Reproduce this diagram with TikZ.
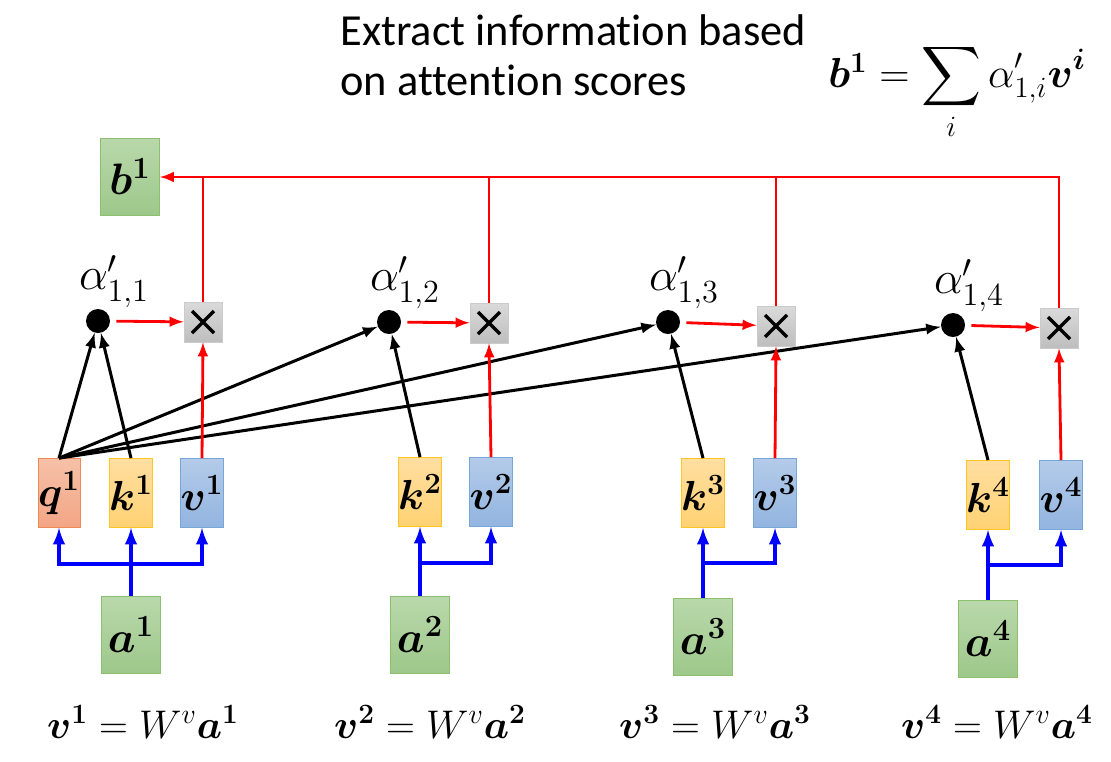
\documentclass[tikz,border=0pt]{standalone}
\usepackage{fix-cm}
\usepackage{amsmath}
\usepackage{bm}
\usepackage{fontspec}
\newfontfamily\carlito[Ligatures={NoCommon,NoContextual}]{Carlito}
\usepackage{tikz}
\usetikzlibrary{arrows, positioning, calc}

\definecolor{grTop}{HTML}{B9D8AB}
\definecolor{grBot}{HTML}{9DC88A}
\definecolor{grLine}{HTML}{8DC06E}
\definecolor{orTop}{HTML}{F6C1A8}
\definecolor{orBot}{HTML}{F3A585}
\definecolor{orLine}{HTML}{EE8A52}
\definecolor{ylTop}{HTML}{FFDEA0}
\definecolor{ylBot}{HTML}{FFD273}
\definecolor{ylLine}{HTML}{FFC425}
\definecolor{blTop}{HTML}{B4CBE9}
\definecolor{blBot}{HTML}{92B4E0}
\definecolor{blLine}{HTML}{78A6D8}
\definecolor{gyTop}{HTML}{DADADA}
\definecolor{gyBot}{HTML}{BEBEBE}

\begin{document}
\begin{tikzpicture}[x=0.5pt, y=-0.5pt, >=latex,
    mfont/.style={font=\fontsize{20}{24}\selectfont},
    bigbox/.style={draw=grLine, top color=grTop, bottom color=grBot, minimum width=29.5pt, minimum height=38.5pt, inner sep=0pt, font=\fontsize{22}{24}\selectfont},
    qbox/.style={draw=orLine, top color=orTop, bottom color=orBot, minimum width=18.5pt, minimum height=34.5pt, inner sep=0pt, font=\fontsize{21}{24}\selectfont},
    kbox/.style={draw=ylLine, top color=ylTop, bottom color=ylBot, minimum width=18.5pt, minimum height=34.5pt, inner sep=0pt, font=\fontsize{21}{24}\selectfont},
    vbox/.style={draw=blLine, top color=blTop, bottom color=blBot, minimum width=18.5pt, minimum height=34.5pt, inner sep=0pt, font=\fontsize{21}{24}\selectfont},
    mulbox/.style={draw=gyBot!80, top color=gyTop, bottom color=gyBot, minimum width=19pt, minimum height=20pt, inner sep=0pt,
        path picture={\draw[black, line width=1.7pt] ($(path picture bounding box.center)+(-5.5pt,-5.5pt)$) -- ($(path picture bounding box.center)+(5.5pt,5.5pt)$)
                                               ($(path picture bounding box.center)+(-5.5pt,5.5pt)$) -- ($(path picture bounding box.center)+(5.5pt,-5.5pt)$);}},
    score/.style={circle, fill=black, minimum size=12pt, inner sep=0pt},
    albl/.style={inner sep=1pt, font=\fontsize{23}{24}\selectfont},
    qk/.style={->, black, line width=1.5pt},
    wsum/.style={->, red, line width=1.4pt},
    emb/.style={->, blue, line width=1.8pt}]

    % frame
    \useasboundingbox (0,0) rectangle (1111,761);

    % heading and formula
    \node[anchor=north west, align=left, inner sep=0pt, font=\carlito\fontsize{22.2}{25}\selectfont] (head) at (340,14) {Extract informat\kern0pt ion based\\on attent\kern0pt ion scores};
    \node[font=\fontsize{21}{24}\selectfont] (sumeq) at (957,92) {$\bm{b^1} = \displaystyle\sum_i \alpha'_{1,i}\bm{v^i}$};

    % output
    \node[bigbox] (b1) at (130,177) {$\bm{b^1}$};

    % inputs
    \node[bigbox] (a1) at (131,635) {$\bm{a^1}$};
    \node[bigbox] (a2) at (420,635) {$\bm{a^2}$};
    \node[bigbox] (a3) at (703,637) {$\bm{a^3}$};
    \node[bigbox] (a4) at (988,639) {$\bm{a^4}$};

    % query, keys, values
    \node[qbox] (q1) at (59,493) {$\bm{q^1}$};
    \node[kbox] (k1) at (131,493) {$\bm{k^1}$};
    \node[vbox] (v1) at (202,493) {$\bm{v^1}$};
    \node[kbox] (k2) at (420,492) {$\bm{k^2}$};
    \node[vbox] (v2) at (491,492) {$\bm{v^2}$};
    \node[kbox] (k3) at (703,493) {$\bm{k^3}$};
    \node[vbox] (v3) at (775,493) {$\bm{v^3}$};
    \node[kbox] (k4) at (988,495) {$\bm{k^4}$};
    \node[vbox] (v4) at (1061,495) {$\bm{v^4}$};

    % attention scores
    \node[score] (d1) at (98,321) {};
    \node[score] (d2) at (389,322) {};
    \node[score] (d3) at (668,322) {};
    \node[score] (d4) at (953,325) {};
    \node[albl, above=-1pt of d1, xshift=8pt] (l1) {$\alpha'_{1,1}$};
    \node[albl, above=-1pt of d2, xshift=8pt] (l2) {$\alpha'_{1,2}$};
    \node[albl, above=-1pt of d3, xshift=8pt] (l3) {$\alpha'_{1,3}$};
    \node[albl, above=-1pt of d4, xshift=8pt] (l4) {$\alpha'_{1,4}$};

    % products
    \node[mulbox] (x1) at (203,322) {};
    \node[mulbox] (x2) at (489,323) {};
    \node[mulbox] (x3) at (776,326) {};
    \node[mulbox] (x4) at (1059,328) {};

    % value equations
    \node[mfont] (e1) at (143,722) {$\bm{v^1} = W^{v}\bm{a^1}$};
    \node[mfont] (e2) at (430,722) {$\bm{v^2} = W^{v}\bm{a^2}$};
    \node[mfont] (e3) at (715,722) {$\bm{v^3} = W^{v}\bm{a^3}$};
    \node[mfont] (e4) at (997,722) {$\bm{v^4} = W^{v}\bm{a^4}$};

    % a -> q, k, v
    \coordinate (j1) at (131,564);
    \coordinate (j2) at (420,563);
    \coordinate (j3) at (703,563);
    \coordinate (j4) at (988,565);
    \draw[blue, line width=1.8pt] (a1.north) -- (j1);
    \draw[emb] (j1) -| (q1.south);
    \draw[emb] (j1) -- (k1.south);
    \draw[emb] (j1) -| (v1.south);
    \draw[blue, line width=1.8pt] (a2.north) -- (j2);
    \draw[emb] (j2) -- (k2.south);
    \draw[emb] (j2) -| (v2.south);
    \draw[blue, line width=1.8pt] (a3.north) -- (j3);
    \draw[emb] (j3) -- (k3.south);
    \draw[emb] (j3) -| (v3.south);
    \draw[blue, line width=1.8pt] (a4.north) -- (j4);
    \draw[emb] (j4) -- (k4.south);
    \draw[emb] (j4) -| (v4.south);

    % q . k
    \draw[qk] (q1.north) -- (d1);
    \draw[qk] (q1.north) -- (d2);
    \draw[qk] (q1.north) -- (d3);
    \draw[qk] (q1.north) -- (d4);
    \draw[qk] (k1.north) -- (d1);
    \draw[qk] (k2.north) -- (d2);
    \draw[qk] (k3.north) -- (d3);
    \draw[qk] (k4.north) -- (d4);

    % weighted values
    \draw[wsum, shorten <=3pt] (d1) -- (x1);
    \draw[wsum, shorten <=3pt] (d2) -- (x2);
    \draw[wsum, shorten <=3pt] (d3) -- (x3);
    \draw[wsum, shorten <=3pt] (d4) -- (x4);
    \draw[wsum] (v1.north) -- (x1.south);
    \draw[wsum] (v2.north) -- (x2.south);
    \draw[wsum] (v3.north) -- (x3.south);
    \draw[wsum] (v4.north) -- (x4.south);

    % sum into b1
    \draw[wsum] (x4.north) |- (b1.east);
    \draw[red, line width=1.4pt] (x1.north) -- (x1.north |- b1.east);
    \draw[red, line width=1.4pt] (x2.north) -- (x2.north |- b1.east);
    \draw[red, line width=1.4pt] (x3.north) -- (x3.north |- b1.east);
\end{tikzpicture}
\end{document}
